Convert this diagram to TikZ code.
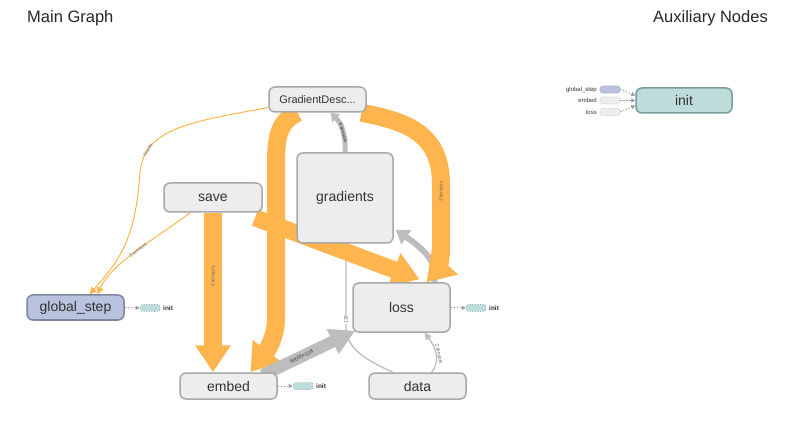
\documentclass[tikz,border=0pt]{standalone}
\usepackage{fontspec}
\setmainfont{Liberation Sans}
\usetikzlibrary{arrows.meta,calc}
\definecolor{orng}{HTML}{FFB54D}
\definecolor{gedge}{HTML}{BDBDBD}
\definecolor{nfill}{HTML}{EDEDED}
\definecolor{nbord}{HTML}{A8A8A8}
\definecolor{gsfill}{HTML}{B9C3DD}
\definecolor{gsbord}{HTML}{7E879F}
\definecolor{initfill}{HTML}{BEDCDA}
\definecolor{initbord}{HTML}{779E9C}
\definecolor{txt}{HTML}{333333}
\definecolor{lbl}{HTML}{666666}
\pgfdeclarelayer{bg}
\pgfsetlayers{bg,main}
\begin{document}
\begin{tikzpicture}[x=1pt,y=-1pt,
  opnode/.style={draw=nbord, fill=nfill, line width=1.5pt, rounded corners=6pt, text=txt, inner sep=0pt, font=\fontsize{14}{16}\selectfont},
  obig/.style={draw=orng, line width=18pt},
  othin/.style={draw=orng, line width=1pt, -{Triangle[length=7pt,width=7pt]}},
  bigtip/.style={-{Triangle[length=27pt,width=34pt]}},
  gthin/.style={draw=gedge, line width=1.3pt},
  elbl/.style={font=\fontsize{5}{6}\selectfont, text=lbl, inner sep=0.5pt},
  pill/.style={rounded corners=2.5pt, minimum width=20pt, minimum height=7pt, inner sep=0pt, line width=0.6pt},
  dotarrow/.style={draw=gray!80, line width=0.8pt, dash pattern=on 1.5pt off 1.5pt, -{Triangle[length=4pt,width=4pt]}},
  smalltxt/.style={font=\fontsize{6.5}{7}\selectfont\bfseries, text=txt, inner sep=0pt},
  ttl/.style={font=\fontsize{16.5}{19}\selectfont, text=black!85, inner sep=0pt}
]
\useasboundingbox (0,0) rectangle (785,422);

% titles
\node[ttl, anchor=west] (t1) at (27,18) {Main Graph};
\node[ttl, anchor=east] (t2) at (768,18) {Auxiliary Nodes};

% main nodes
\node[opnode, minimum width=97pt, minimum height=25pt, font=\fontsize{11}{13}\selectfont] (gd) at (317.5,99.5) {GradientDesc...};
\node[opnode, minimum width=96pt, minimum height=90pt] (grad) at (345,198) {gradients};
\node[opnode, minimum width=98pt, minimum height=29pt] (save) at (213,197.5) {save};
\node[opnode, fill=gsfill, draw=gsbord, minimum width=97pt, minimum height=25pt] (gs) at (75.5,307.5) {global\_step};
\node[opnode, minimum width=97pt, minimum height=49pt] (loss) at (401.5,307.5) {loss};
\node[opnode, minimum width=97pt, minimum height=26pt] (embed) at (228.5,386) {embed};
\node[opnode, minimum width=97pt, minimum height=26pt] (data) at (417.5,386) {data};
\node[opnode, fill=initfill, draw=initbord, minimum width=96pt, minimum height=25pt] (init) at (684,100.5) {init};

% init markers in main graph
\node[pill, fill=initfill, draw=initbord, dotted] (gsi) at (150,308) {};
\node[smalltxt, anchor=west] (gsit) at (163,308) {init};
\node[pill, fill=initfill, draw=initbord, dotted] (embi) at (303,386) {};
\node[smalltxt, anchor=west] (embit) at (316,386) {init};
\node[pill, fill=initfill, draw=initbord, dotted] (lossi) at (476,308) {};
\node[smalltxt, anchor=west] (lossit) at (489,308) {init};
\draw[dotarrow] (gs.east) -- (gsi.west);
\draw[dotarrow] (embed.east) -- (embi.west);
\draw[dotarrow] (loss.east) -- (lossi.west);

% auxiliary inputs
\node[pill, fill=gsfill, draw=gsfill!80!gray] (ags) at (610,89.5) {};
\node[pill, fill=nfill, draw=nbord, dotted] (aemb) at (610,100.5) {};
\node[pill, fill=nfill, draw=nbord, dotted] (aloss) at (610,112) {};
\node[smalltxt, anchor=east, font=\fontsize{6}{7}\selectfont] (agst) at (597,89.5) {global\_step};
\node[smalltxt, anchor=east, font=\fontsize{6}{7}\selectfont] (aembt) at (597,100.5) {embed};
\node[smalltxt, anchor=east, font=\fontsize{6}{7}\selectfont] (alosst) at (597,112) {loss};
\draw[dotarrow] (ags.east) -- ([yshift=5]init.west);
\draw[dotarrow] (aemb.east) -- (init.west);
\draw[dotarrow] (aloss.east) -- ([yshift=-5]init.west);

\begin{pgfonlayer}{bg}
% thin grey gradients -- data
\draw[gthin] ([xshift=1]grad.south) -- (346,328)
  node[elbl, pos=0.9, rotate=90, fill=white] {128}
  .. controls (347,352) and (372,362) .. ([xshift=-25]data.north);
% data -> loss
\draw[gthin, -{Triangle[length=7pt,width=7pt]}] ([xshift=14]data.north) .. controls (442,360) and (434,345) .. ([xshift=23]loss.south)
  node[elbl, pos=0.45, sloped, above=0.3pt] {2 tensors};
% loss -> gradients
\draw[draw=gedge, line width=6pt, -{Triangle[length=13pt,width=17pt]}] ([xshift=33]loss.north) .. controls (436,265) and (432,255) .. ([xshift=2,yshift=14]grad.south east)
  node[elbl, pos=0.3, sloped, text=txt] {scalar};
% orange thin edges
\draw[othin] ([yshift=-8]gd.west) .. controls (190,122) and (145,128) .. (140,172)
  node[elbl, pos=0.8, sloped, text=lbl] {scalar}
  .. controls (136,240) and (118,262) .. ([xshift=14]gs.north);
\draw[othin] ([xshift=-23]save.south) .. controls (160,236) and (112,262) .. ([xshift=22]gs.north)
  node[elbl, pos=0.5, sloped] {2 tensors};
% orange bands
\draw[obig, bigtip] (save.south) -- (embed.north -| save.south)
  node[elbl, pos=0.4, rotate=90, text=lbl] {2 tensors};
\draw[obig, bigtip] ([xshift=-20]gd.south) .. controls (279,122) and (276,135) .. (276,165)
  -- (276,318) node[elbl, pos=0.4, rotate=90, text=lbl] {50000}
  .. controls (276,338) and (266,352) .. ([xshift=22]embed.north);
\draw[obig, bigtip] ([xshift=44]gd.south) .. controls (410,122) and (441,135) .. (441,185)
  -- (441,250) node[elbl, pos=0.1, rotate=90, text=lbl] {2 tensors}
  .. controls (441,262) and (436,272) .. ([xshift=25]loss.north);
\draw[draw=orng, line width=17pt, bigtip] ([xshift=42,yshift=-5]save.south) -- ([xshift=18,yshift=3]loss.north);
% grey bands
\draw[draw=gedge, line width=12pt, -{Triangle[length=25pt,width=26pt]}] ([xshift=34,yshift=-3]embed.north) -- ([xshift=3,yshift=2]loss.south west)
  node[elbl, pos=0.42, sloped, text=txt] {50000×128};
\draw[draw=gedge, line width=5pt, -{Triangle[length=8pt,width=11pt]}] (grad.north) .. controls (346,133) and (341,123) .. ([xshift=13]gd.south)
  node[elbl, pos=0.4, sloped, text=txt] {6 tensors};
\end{pgfonlayer}
\end{tikzpicture}
\end{document}
